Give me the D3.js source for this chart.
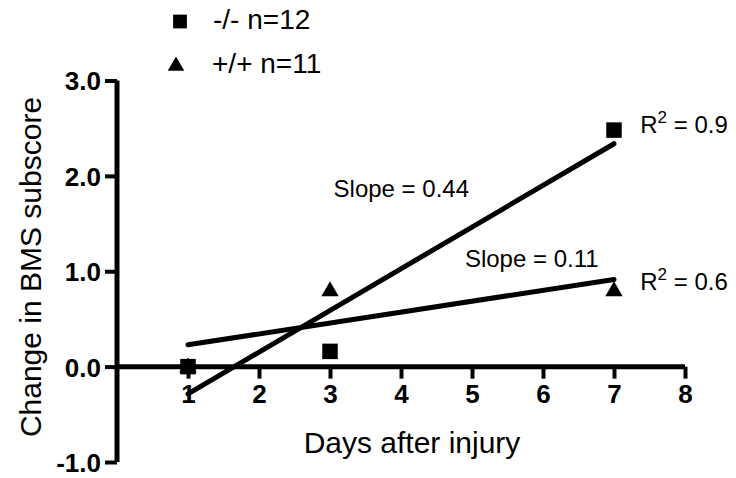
<!DOCTYPE html>
<html><head><meta charset="utf-8">
<script src="https://cdn.jsdelivr.net/npm/d3@7"></script>
<style>body{margin:0;background:#fff}svg{display:block}text{font-family:"Liberation Sans",Arial,sans-serif;fill:#000}</style>
</head><body><svg id="c" width="736" height="478"></svg>
<script>
const days = [1, 3, 7];
const koValues = [0.0, 0.16, 2.48];   // -/- n=12 (squares)
const wtValues = [0.0, 0.80, 0.80];   // +/+ n=11 (triangles)
const seriesNames = ["-/-  n=12", "+/+  n=11"];
const xTicks = [1, 2, 3, 4, 5, 6, 7, 8];
const yTicks = [-1, 0, 1, 2, 3];
const yTickLabels = ["-1.0", "0.0", "1.0", "2.0", "3.0"];
const slopeLabels = ["Slope = 0.44", "Slope = 0.11"];
const r2Values = ["0.9", "0.6"];

const svg = d3.select("#c");
const x = d3.scaleLinear().domain([0, 8]).range([117, 685]);
const y = d3.scaleLinear().domain([-1, 3]).range([462, 80.5]);

// least squares fit
function fit(xs, ys) {
  const mx = d3.mean(xs), my = d3.mean(ys);
  let sxy = 0, sxx = 0;
  xs.forEach((v, i) => { sxy += (v - mx) * (ys[i] - my); sxx += (v - mx) ** 2; });
  const b = sxy / sxx;
  return { b, a: my - b * mx };
}

// Y axis
const yAxis = svg.append("g").attr("transform", `translate(${x(0)},0)`)
  .call(d3.axisLeft(y).tickValues(yTicks).tickFormat((d, i) => yTickLabels[i]).tickSize(12).tickPadding(4));
yAxis.select(".domain").attr("d", `M0,${y(3)}V${y(-1)}`).attr("stroke", "#000").attr("stroke-width", 5);
yAxis.selectAll(".tick line").attr("stroke", "#000").attr("stroke-width", 4);
yAxis.selectAll(".tick text").attr("font-size", 26).attr("font-weight", "bold").attr("dy", "0.36em")
  .style("font-family", '"Liberation Sans",Arial,sans-serif');

// X axis at y=0
const xAxis = svg.append("g").attr("transform", `translate(0,${y(0)})`)
  .call(d3.axisBottom(x).tickValues(xTicks).tickSize(12).tickPadding(6));
xAxis.select(".domain").attr("d", `M${x(0)},0H${x(8)}`).attr("stroke", "#000").attr("stroke-width", 5);
xAxis.selectAll(".tick line").attr("stroke", "#000").attr("stroke-width", 4);
xAxis.selectAll(".tick text").attr("font-size", 26).attr("font-weight", "bold")
  .style("font-family", '"Liberation Sans",Arial,sans-serif');

// Fit lines
[koValues, wtValues].forEach(vals => {
  const f = fit(days, vals);
  svg.append("line")
    .attr("x1", x(days[0])).attr("y1", y(f.a + f.b * days[0]))
    .attr("x2", x(days[days.length - 1])).attr("y2", y(f.a + f.b * days[days.length - 1]))
    .attr("stroke", "#000").attr("stroke-width", 5).attr("stroke-linecap", "round");
});

// Points
const sq = d3.symbol().type(d3.symbolSquare).size(240);
const tri = d3.symbol().type(d3.symbolTriangle).size(130);
svg.append("g").selectAll("path").data(days.map((d, i) => [d, wtValues[i]])).join("path")
  .attr("d", tri).attr("transform", d => `translate(${x(d[0])},${y(d[1]) + 1})`).attr("fill", "#000");
svg.append("g").selectAll("path").data(days.map((d, i) => [d, koValues[i]])).join("path")
  .attr("d", sq).attr("transform", d => `translate(${x(d[0])},${y(d[1])})`).attr("fill", "#000");

// Annotations
const annot = svg.append("g").attr("font-size", 24);
annot.append("text").attr("x", x(3.05)).attr("y", y(1.78)).text(slopeLabels[0]);
annot.append("text").attr("x", x(4.9)).attr("y", y(1.04)).text(slopeLabels[1]);
[[2.45, r2Values[0]], [0.80, r2Values[1]]].forEach(([v, r]) => {
  const t = annot.append("text").attr("x", x(7.37)).attr("y", y(v));
  t.append("tspan").text("R");
  t.append("tspan").attr("font-size", 17).attr("dy", -10).text("2");
  t.append("tspan").attr("dy", 10).text(" = " + r);
});

// Axis titles
svg.append("text").attr("x", 412).attr("y", 453).attr("text-anchor", "middle").attr("font-size", 30).text("Days after injury");
svg.append("text").attr("transform", "translate(41,267) rotate(-90)").attr("text-anchor", "middle").attr("font-size", 30).text("Change in BMS subscore");

// Legend
const leg = svg.append("g");
leg.append("path").attr("d", d3.symbol().type(d3.symbolSquare).size(190)).attr("transform", "translate(180,21.5)");
leg.append("path").attr("d", d3.symbol().type(d3.symbolTriangle).size(120)).attr("transform", "translate(176,66)");
leg.append("text").attr("x", 213).attr("y", 29).attr("font-size", 28).text(seriesNames[0]);
leg.append("text").attr("x", 212).attr("y", 73).attr("font-size", 28).text(seriesNames[1]);
</script></body></html>
